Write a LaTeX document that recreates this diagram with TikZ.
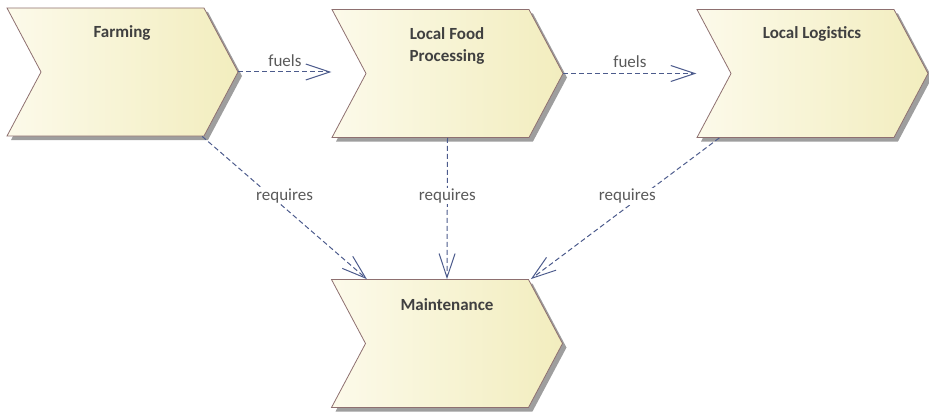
\documentclass[tikz,border=0pt]{standalone}
\usepackage{fontspec}
\setmainfont{Carlito}
\usepackage{tikz}
\usetikzlibrary{arrows.meta, positioning, shapes.symbols, shadows}
\usepackage{xcolor}

\definecolor{chevedge}{HTML}{8E7070}
\definecolor{chevleft}{HTML}{FCFAEA}
\definecolor{chevright}{HTML}{F2EDBE}
\definecolor{titlegray}{HTML}{404040}
\definecolor{labelgray}{HTML}{5A5A5A}
\definecolor{linkblue}{HTML}{4C5B8C}

\tikzset{
    chevron/.style={signal, signal from=west, signal to=east, signal pointer angle=124,
        minimum width=231pt, minimum height=128pt, inner sep=0pt,
        draw=chevedge, line width=0.8pt, left color=chevleft, right color=chevright,
        drop shadow={shadow xshift=4pt, shadow yshift=-4pt, fill=black!38, opacity=1}},
    title/.style={font=\bfseries\fontsize{17}{22}\selectfont, text=titlegray, align=center},
    link/.style={linkblue, line width=1pt, dash pattern=on 5pt off 3pt,
        -{Straight Barb[length=24pt, width=16pt, line width=1pt]}},
    linklabel/.style={font=\fontsize{17}{19}\selectfont, text=labelgray},
}

\begin{document}
\begin{tikzpicture}[x=1pt, y=-1pt]
    \useasboundingbox (0,0) rectangle (929,412);
    % steps
    \node[chevron] (farm) at (122.5,72) {};
    \node[chevron] (proc) at (447.5,73.5) {};
    \node[chevron] (logi) at (812.5,73.5) {};
    \node[chevron] (maint) at (447,343.5) {};
    \node[title] (farmT) at (122,33) {Farming};
    \node[title] (procT) at (447,46) {Local Food\\Processing};
    \node[title] (logiT) at (812,34) {Local Logistics};
    \node[title] (maintT) at (447,305) {Maintenance};
    % flows
    \draw[link] (farm.east) -- (proc.north west |- farm.east)
        node[linklabel, midway, above=2pt] {fuels};
    \draw[link] (proc.east) -- (logi.north west |- proc.east)
        node[linklabel, midway, above=2pt] {fuels};
    \draw[link] ([xshift=-2pt]farm.south east) -- ([xshift=36pt]maint.north west)
        node[linklabel, pos=0.415, xshift=14pt, fill=white, inner sep=1pt] {requires};
    \draw[link] (proc.south) -- (maint.north)
        node[linklabel, pos=0.41, fill=white, inner sep=1pt] {requires};
    \draw[link] ([xshift=23pt]logi.south west) -- ([xshift=200pt]maint.north west)
        node[linklabel, pos=0.414, xshift=-14pt, fill=white, inner sep=1pt] {requires};
\end{tikzpicture}
\end{document}
